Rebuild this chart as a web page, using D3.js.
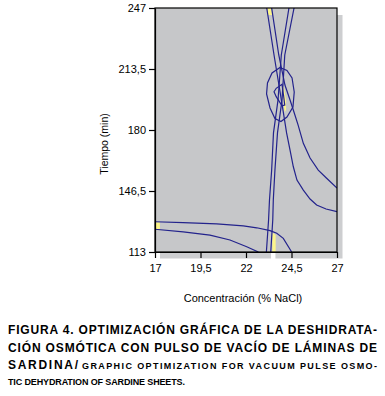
<!DOCTYPE html>
<html>
<head>
<meta charset="utf-8">
<script src="https://cdn.jsdelivr.net/npm/d3@7"></script>
<style>
  body { margin: 0; background: #fff; }
  text { font-family: "Liberation Sans", Arial, sans-serif; }
</style>
</head>
<body>
<div id="chart"></div>
<script>
// axis ticks
var xTicks = [17, 19.5, 22, 24.5, 27];
var yTicks = [113, 146.5, 180, 213.5, 247];

// contour lines, [NaCl %, tiempo min]
var riseLeft = [[24.36,247],[23.94,221.2],[23.76,196.5],[23.51,178.4],[23.41,158],[23.29,141.6],[23.24,130.6],[23.12,113]];
var riseRight = [[24.64,247],[24.13,221.2],[23.98,196.5],[23.73,178.4],[23.59,158],[23.50,141.6],[23.47,130.6],[23.36,113]];
var fallLeft = [[23.14,247],[23.54,221.2],[23.81,204.7],[24.03,191],[24.23,178.4],[24.42,169],[24.60,159.8],[24.80,152.5],[25.15,147],[25.52,142.1],[25.88,138.8],[26.40,136.6],[27,135.2]];
var fallRight = [[23.41,247],[23.80,221.2],[24.14,204.7],[24.42,196.5],[24.60,191],[24.86,182.8],[25.15,172.7],[25.52,164.6],[25.97,158],[26.43,153.5],[27,148.1]];
var lowUpper = [[17,129.6],[18.55,129.1],[20.39,128.4],[21.85,127.3],[22.59,126.3],[23.32,124.7],[23.69,123.3],[24.05,120.5],[24.51,113]];
var lowLower = [[17,125.5],[18.55,124.1],[20.02,122.3],[21.12,119.6],[22.04,115.9],[22.68,113]];
var ringOuter = [[23.87,214.3],[24.25,212.7],[24.53,208.6],[24.65,200.9],[24.58,192.6],[24.25,187.1],[23.92,184.7],[23.59,186.3],[23.32,192.1],[23.13,199.8],[23.18,205.8],[23.43,211.3]];
var ringInner = [[23.54,201.0],[23.66,202.9],[23.98,205.1],[24.06,199.2],[24.13,193.7],[23.98,193.3],[23.66,198.3]];

// feasible (yellow) zones
var zoneLeft = [[17,129.4],[17.27,129.3],[17.27,125.4],[17,125.5]];
var zoneBottom = [[23.45,123.7],[23.63,122.3],[23.63,113],[23.45,113]];
var zoneTop = [[23.15,247],[23.39,247],[23.43,243.2],[23.21,243.2]];
var zoneCenter = [[23.98,205.3],[24.09,203.1],[24.20,196.5],[24.20,191],[24.12,189.9],[24.06,196.5],[24.01,200.9]];

var W = 385, H = 396;
var margin = {top: 8, left: 155};
var pw = 182, ph = 244;

var svg = d3.select("#chart").append("svg")
    .attr("width", W)
    .attr("height", H);

var x = d3.scaleLinear().domain([17, 27]).range([0, pw]);
var y = d3.scaleLinear().domain([113, 247]).range([ph, 0]);

var g = svg.append("g")
    .attr("transform", "translate(" + margin.left + "," + margin.top + ")");

// drop shadow behind the plot
g.append("rect")
    .attr("x", 5).attr("y", 7)
    .attr("width", pw + 0.5).attr("height", ph - 0.5)
    .attr("fill", "#cdced0");
// white gap in the shadow under the bottom zone
g.append("rect")
    .attr("x", x(23.36) + 0.3).attr("y", ph + 0.5)
    .attr("width", x(23.60) - x(23.36)).attr("height", 7)
    .attr("fill", "#fff");

g.append("rect")
    .attr("width", pw).attr("height", ph)
    .attr("fill", "#c6c7c9");

g.append("clipPath").attr("id", "clip")
    .append("rect").attr("width", pw).attr("height", ph);

var plot = g.append("g").attr("clip-path", "url(#clip)");

var openLine = d3.line()
    .x(function(d) { return x(d[0]); })
    .y(function(d) { return y(d[1]); });
var loopLine = d3.line()
    .x(function(d) { return x(d[0]); })
    .y(function(d) { return y(d[1]); })
    .curve(d3.curveLinearClosed);

plot.selectAll(".zone")
    .data([zoneLeft, zoneBottom, zoneTop, zoneCenter])
    .enter().append("path")
        .attr("class", "zone")
        .attr("d", function(d) { return loopLine(d); })
        .attr("fill", "#fcf58a");

plot.selectAll(".contour")
    .data([riseLeft, riseRight, fallLeft, fallRight, lowUpper, lowLower])
    .enter().append("path")
        .attr("class", "contour")
        .attr("d", function(d) { return openLine(d); })
        .attr("fill", "none")
        .attr("stroke", "#23238c")
        .attr("stroke-width", 1.2);

plot.selectAll(".ring")
    .data([ringOuter, ringInner])
    .enter().append("path")
        .attr("class", "ring")
        .attr("d", function(d) { return loopLine(d); })
        .attr("fill", "none")
        .attr("stroke", "#23238c")
        .attr("stroke-width", 1.2);

// frame
g.append("rect")
    .attr("width", pw).attr("height", ph)
    .attr("fill", "none")
    .attr("stroke", "#000")
    .attr("stroke-width", 1.2);

var fmt = function(d) { return String(d).replace(".", ","); };

var xAxis = g.append("g")
    .attr("transform", "translate(0," + ph + ")")
    .call(d3.axisBottom(x).tickValues(xTicks).tickFormat(fmt).tickSize(6).tickPadding(6).tickSizeOuter(0));
var yAxis = g.append("g")
    .call(d3.axisLeft(y).tickValues(yTicks).tickFormat(fmt).tickSize(6).tickPadding(3).tickSizeOuter(0));

[xAxis, yAxis].forEach(function(a) {
    a.select(".domain").attr("stroke", "#000").attr("stroke-width", 1.2);
    a.selectAll(".tick line").attr("stroke", "#000").attr("stroke-width", 1.2);
    a.selectAll(".tick text")
        .attr("fill", "#000")
        .style("font-family", "'Liberation Sans', Arial, sans-serif")
        .style("font-size", "11px");
});

svg.append("text")
    .attr("x", 243).attr("y", 302)
    .attr("text-anchor", "middle")
    .style("font-size", "11px")
    .text("Concentración (% NaCl)");

svg.append("text")
    .attr("transform", "translate(107.5,144) rotate(-90)")
    .attr("text-anchor", "middle")
    .style("font-size", "10.5px")
    .text("Tiempo (min)");

// caption
var cap = [
    {t: "FIGURA 4. OPTIMIZACIÓN GRÁFICA DE LA DESHIDRATA-", x: 8, y: 333.5, size: 12, len: 369},
    {t: "CIÓN OSMÓTICA CON PULSO DE VACÍO DE LÁMINAS DE", x: 8, y: 351.5, size: 12, len: 369},
    {t: "SARDINA/", x: 8, y: 368.5, size: 12, len: 70},
    {t: "GRAPHIC OPTIMIZATION FOR VACUUM PULSE OSMO-", x: 82, y: 368.5, size: 9, len: 295},
    {t: "TIC DEHYDRATION OF SARDINE SHEETS.", x: 8, y: 384.5, size: 9, len: 177}
];
svg.selectAll(".cap")
    .data(cap)
    .enter().append("text")
        .attr("class", "cap")
        .attr("x", function(d) { return d.x; })
        .attr("y", function(d) { return d.y; })
        .attr("textLength", function(d) { return d.len; })
        .attr("lengthAdjust", "spacing")
        .style("font-size", function(d) { return d.size + "px"; })
        .style("font-weight", "bold")
        .text(function(d) { return d.t; });
</script>
</body>
</html>
